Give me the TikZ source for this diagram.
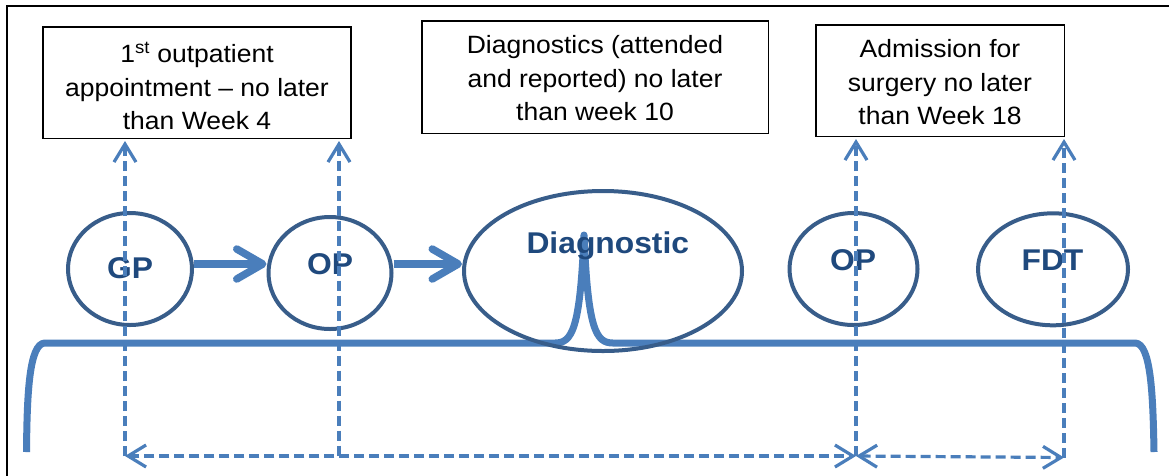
\documentclass[tikz,border=0pt]{standalone}
\usepackage{fontspec}
\setmainfont{Liberation Sans}[FakeStretch=1.06]
\usetikzlibrary{arrows.meta,shapes.geometric}
\definecolor{shapeline}{HTML}{385D8A}
\definecolor{conn}{HTML}{4A7EBB}
\definecolor{labeltext}{HTML}{1F497D}
\tikzset{
  infobox/.style={draw=black, line width=1.5pt, rectangle, inner sep=0pt},
  infotext/.style={align=center, font=\fontsize{25}{33.5}\selectfont, inner sep=0pt},
  stage/.style={draw=shapeline, line width=4pt, ellipse, inner sep=0pt},
  stagelabel/.style={font=\fontsize{30}{36}\selectfont\bfseries, text=labeltext, inner sep=0pt, anchor=base},
  flowarrow/.style={draw=conn, line width=7.5pt, -{Straight Barb[round, length=26pt, width=30pt]}},
  bracketline/.style={draw=conn, line width=7pt, line join=round},
  dashconn/.style={draw=conn, line width=3.2pt, dash pattern=on 10pt off 5pt},
  dtip/.tip={Straight Barb[length=18pt, width=22pt]},
}
\begin{document}
\begin{tikzpicture}[x=1pt, y=-1pt]
\useasboundingbox (0,0) rectangle (1169,475);
\fill[white] (0,0) rectangle (1169,475);
% outer frame
\draw[line width=2pt] (7,476) -- (7,6) -- (1170,6);

% info boxes
\node[infobox, minimum width=308pt, minimum height=111.5pt] (b1) at (197,82.5) {};
\node[infotext] (t1) at (197,86) {1\textsuperscript{st} outpatient\\appointment – no later\\than Week 4};
\node[infobox, minimum width=346.5pt, minimum height=112.5pt] (b2) at (595,77) {};
\node[infotext] (t2) at (595,78.4) {Diagnostics (attended\\and reported) no later\\than week 10};
\node[infobox, minimum width=248.5pt, minimum height=111.5pt] (b3) at (940,80.5) {};
\node[infotext] (t3) at (940,82.4) {Admission for\\surgery no later\\than Week 18};

% bracket
\draw[bracketline] (26.5,452) .. controls (27,395) and (29,343) .. (45,343)
  -- (555,343) .. controls (572,343) and (580,330) .. (584,235)
  .. controls (588,330) and (596,343) .. (613,343)
  -- (1135,343) .. controls (1151,343) and (1153,395) .. (1154,452);

% stages
\node[stage, minimum width=124pt, minimum height=112pt] (GP) at (130,269) {};
\node[stage, minimum width=123pt, minimum height=112pt] (OPa) at (330,273) {};
\node[stage, minimum width=278pt, minimum height=160pt] (DG) at (603,271) {};
\node[stage, minimum width=128pt, minimum height=112pt] (OPb) at (853.5,269) {};
\node[stage, minimum width=150pt, minimum height=112pt] (FDT) at (1053,269.3) {};

\node[stagelabel] (lGP) at (130,278) {GP};
\node[stagelabel] (lOPa) at (330,274) {OP};
\node[stagelabel] (lDG) at (607.8,253.3) {Diagnostic};
\node[stagelabel] (lOPb) at (853,270.7) {OP};
\node[stagelabel] (lFDT) at (1052.5,270.7) {FDT};

% flow arrows
\coordinate (ay) at (0,264);
\draw[flowarrow] (GP.east |- ay) -- (OPa.west |- ay);
\draw[flowarrow] (OPa.east |- ay) -- (DG.west |- ay);

% dashed timeline connectors
\coordinate (c1) at (125,456);
\coordinate (c2) at (339,456);
\coordinate (c3) at (856,456);
\coordinate (c4) at (1064,457.5);
\draw[dashconn, -{dtip}, shorten >=2pt] (c1) -- (c1 |- b1.south);
\draw[dashconn, {dtip}-{dtip}, shorten <=2pt] (c2 |- b1.south) -- (c2) -- (c1);
\draw[dashconn, -{dtip}] (c2) -- (c3);
\draw[dashconn, -{dtip}, shorten >=2pt] (c3) -- (c3 |- b3.south);
\draw[dashconn, {dtip}-{dtip}] (c3) -- (c4);
\draw[dashconn, -{dtip}, shorten >=2pt] (c4) -- (c4 |- b3.south);
\end{tikzpicture}
\end{document}
